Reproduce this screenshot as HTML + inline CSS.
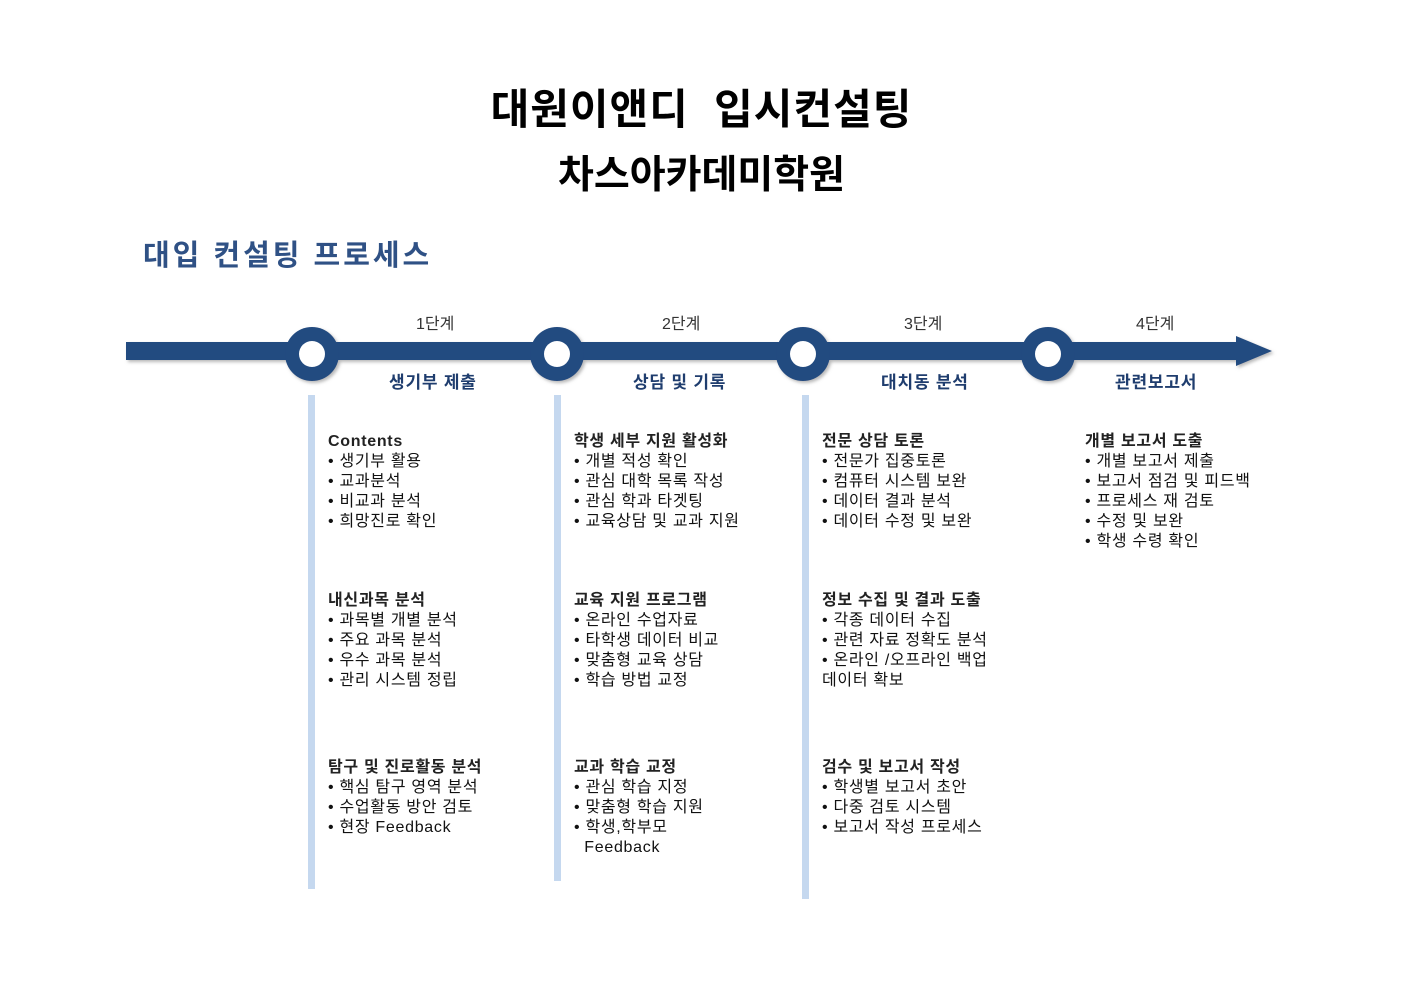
<!DOCTYPE html>
<html><head><meta charset="utf-8"><style>
body{margin:0;width:1403px;height:992px;background:#fff;position:relative;overflow:hidden;font-family:"Liberation Sans","Noto Sans CJK KR",sans-serif}
.a{position:absolute;white-space:nowrap}
.t{font-weight:bold;color:#000;font-size:42px;left:0;width:1403px;text-align:center}
.st{font-size:16px;color:#333}
.lb{font-size:17px;color:#1f3d6e;font-weight:bold;letter-spacing:0.8px}
.c{font-size:16px;line-height:20px;color:#111;letter-spacing:0.7px}
.c b{font-weight:bold;color:#222}
.bar{position:absolute;width:7px;background:#c5d8ef}
</style></head><body>
<div class="a t" style="top:76px;letter-spacing:1px">대원이앤디&nbsp; 입시컨설팅</div>
<div class="a t" style="top:144px;font-size:39px">차스아카데미학원</div>
<div class="a" style="left:143px;top:232px;font-size:29px;font-weight:bold;color:#2f5185;letter-spacing:3px">대입 컨설팅 프로세스</div>
<svg class="a" style="left:0;top:0" width="1403" height="420">
<defs><filter id="s"><feDropShadow dx="2" dy="2" stdDeviation="1.5" flood-color="#888" flood-opacity="0.6"/></filter></defs>
<g filter="url(#s)">
<rect x="126" y="342" width="1115" height="18" fill="#214b80"/>
<polygon points="1236,336 1272,351 1236,366" fill="#214b80"/>
<g fill="#214b80"><circle cx="312" cy="354" r="27"/><circle cx="557" cy="354" r="27"/><circle cx="803" cy="354" r="27"/><circle cx="1048" cy="354" r="27"/></g>
</g>
<g fill="#fff"><circle cx="312" cy="354" r="13"/><circle cx="557" cy="354" r="13"/><circle cx="803" cy="354" r="13"/><circle cx="1048" cy="354" r="13"/></g>
</svg>
<div class="a st" style="left:416px;top:310px">1단계</div>
<div class="a st" style="left:662px;top:310px">2단계</div>
<div class="a st" style="left:904px;top:310px">3단계</div>
<div class="a st" style="left:1136px;top:310px">4단계</div>
<div class="a lb" style="left:389px;top:368px">생기부 제출</div>
<div class="a lb" style="left:633px;top:368px">상담 및 기록</div>
<div class="a lb" style="left:881px;top:368px">대치동 분석</div>
<div class="a lb" style="left:1115px;top:368px">관련보고서</div>
<div class="bar" style="left:308px;top:395px;height:494px"></div>
<div class="bar" style="left:554px;top:395px;height:486px"></div>
<div class="bar" style="left:802px;top:395px;height:504px"></div>
<div class="a c" style="left:328px;top:432px"><b>Contents</b><br>• 생기부 활용<br>• 교과분석<br>• 비교과 분석<br>• 희망진로 확인</div>
<div class="a c" style="left:328px;top:591px"><b>내신과목 분석</b><br>• 과목별 개별 분석<br>• 주요 과목 분석<br>• 우수 과목 분석<br>• 관리 시스템 정립</div>
<div class="a c" style="left:328px;top:758px"><b>탐구 및 진로활동 분석</b><br>• 핵심 탐구 영역 분석<br>• 수업활동 방안 검토<br>• 현장 Feedback</div>
<div class="a c" style="left:574px;top:432px"><b>학생 세부 지원 활성화</b><br>• 개별 적성 확인<br>• 관심 대학 목록 작성<br>• 관심 학과 타겟팅<br>• 교육상담 및 교과 지원</div>
<div class="a c" style="left:574px;top:591px"><b>교육 지원 프로그램</b><br>• 온라인 수업자료<br>• 타학생 데이터 비교<br>• 맞춤형 교육 상담<br>• 학습 방법 교정</div>
<div class="a c" style="left:574px;top:758px"><b>교과 학습 교정</b><br>• 관심 학습 지정<br>• 맞춤형 학습 지원<br>• 학생,학부모<br>&nbsp;&nbsp;Feedback</div>
<div class="a c" style="left:822px;top:432px"><b>전문 상담 토론</b><br>• 전문가 집중토론<br>• 컴퓨터 시스템 보완<br>• 데이터 결과 분석<br>• 데이터 수정 및 보완</div>
<div class="a c" style="left:822px;top:591px"><b>정보 수집 및 결과 도출</b><br>• 각종 데이터 수집<br>• 관련 자료 정확도 분석<br>• 온라인 /오프라인 백업<br>데이터 확보</div>
<div class="a c" style="left:822px;top:758px"><b>검수 및 보고서 작성</b><br>• 학생별 보고서 초안<br>• 다중 검토 시스템<br>• 보고서 작성 프로세스</div>
<div class="a c" style="left:1085px;top:432px"><b>개별 보고서 도출</b><br>• 개별 보고서 제출<br>• 보고서 점검 및 피드백<br>• 프로세스 재 검토<br>• 수정 및 보완<br>• 학생 수령 확인</div>
</body></html>
